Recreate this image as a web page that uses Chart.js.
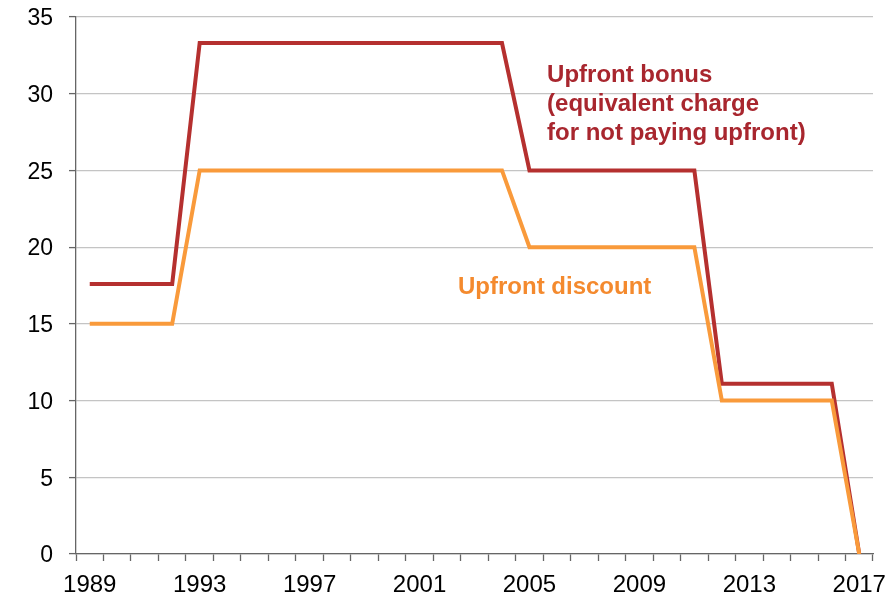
<!DOCTYPE html>
<html>
<head>
<meta charset="utf-8">
<script src="https://cdn.jsdelivr.net/npm/chart.js@4/dist/chart.umd.min.js"></script>
<style>
html,body{margin:0;padding:0;background:#fff;}
#wrap{width:888px;height:598px;position:relative;}
</style>
</head>
<body>
<div id="wrap"><canvas id="c" width="888" height="598"></canvas></div>
<script>
const years = ['1989','1990','1991','1992','1993','1994','1995','1996','1997','1998','1999','2000','2001','2002','2003','2004','2005','2006','2007','2008','2009','2010','2011','2012','2013','2014','2015','2016','2017'];
const upfrontDiscount = [15,15,15,15,25,25,25,25,25,25,25,25,25,25,25,25,20,20,20,20,20,20,20,10,10,10,10,10,0];
const upfrontBonus = [17.6,17.6,17.6,17.6,33.3,33.3,33.3,33.3,33.3,33.3,33.3,33.3,33.3,33.3,33.3,33.3,25,25,25,25,25,25,25,11.1,11.1,11.1,11.1,11.1,0];
const yTicks = [0,5,10,15,20,25,30,35];
const bonusLabel = ['Upfront bonus','(equivalent charge','for not paying upfront)'];
const discountLabel = ['Upfront discount'];

const FONT = '"Liberation Sans", Arial, sans-serif';

const annotations = {
  id: 'annotations',
  afterDatasetsDraw(chart) {
    const ctx = chart.ctx;
    const xs = chart.scales.x, ys = chart.scales.y;
    ctx.save();
    ctx.font = 'bold 24px ' + FONT;
    ctx.textBaseline = 'middle';
    ctx.textAlign = 'left';
    ctx.fillStyle = '#A8262E';
    const bx = xs.getPixelForValue(16.64);
    const by = ys.getPixelForValue(31.2);
    bonusLabel.forEach((t, i) => ctx.fillText(t, bx, by + i * 29));
    ctx.fillStyle = '#F48A2E';
    const dx = xs.getPixelForValue(13.4);
    const dy = ys.getPixelForValue(17.4);
    discountLabel.forEach((t, i) => ctx.fillText(t, dx, dy + i * 29));
    ctx.restore();
  }
};

new Chart(document.getElementById('c'), {
  type: 'line',
  data: {
    labels: years,
    datasets: [
      { label: 'Upfront discount', data: upfrontDiscount, borderColor: '#F99A3B', borderWidth: 4, pointRadius: 0, tension: 0, fill: false },
      { label: 'Upfront bonus', data: upfrontBonus, borderColor: '#B5302F', borderWidth: 4, pointRadius: 0, tension: 0, fill: false }
    ]
  },
  options: {
    responsive: false,
    animation: false,
    devicePixelRatio: 1,
    layout: { padding: { top: 17, right: 15, left: 0, bottom: 0 } },
    plugins: { legend: { display: false }, tooltip: { enabled: false } },
    scales: {
      x: {
        type: 'category',
        offset: true,
        afterFit: (s) => { s.height = 44; s.paddingLeft = 0; s.paddingRight = 0; },
        grid: { offset: true, drawOnChartArea: false, drawTicks: true, tickLength: 7, tickColor: '#666', tickWidth: 1.3 },
        border: { color: '#666', width: 1.3 },
        ticks: {
          autoSkip: false, maxRotation: 0, minRotation: 0, color: '#000', padding: 10,
          font: { family: FONT, size: 24 },
          callback: function(v, i) { return (i % 4 === 0) ? years[i] : ''; }
        }
      },
      y: {
        min: 0, max: 35,
        afterBuildTicks: (s) => { s.ticks = yTicks.map(v => ({ value: v })); },
        afterFit: (s) => { s.width = 76; s.paddingTop = 0; s.paddingBottom = 0; },
        grid: { color: '#C4C4C4', lineWidth: 1.2, drawTicks: true, tickLength: 7, tickColor: '#666', tickWidth: 1.3 },
        border: { color: '#666', width: 1.3 },
        ticks: { color: '#000', padding: 16, labelOffset: 2, font: { family: FONT, size: 23 } }
      }
    }
  },
  plugins: [annotations]
});
</script>
</body>
</html>
